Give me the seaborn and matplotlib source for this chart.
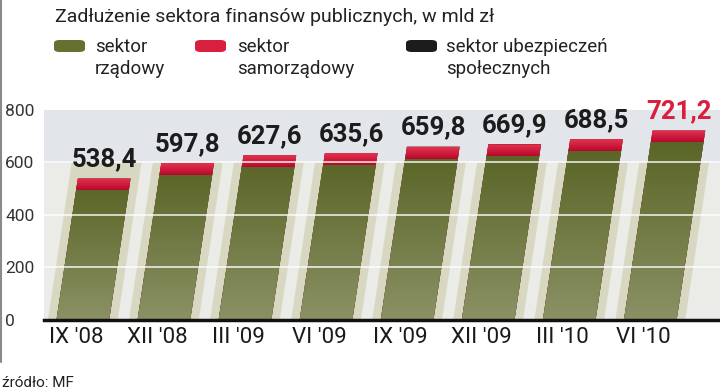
import numpy as np
import pandas as pd
import matplotlib
matplotlib.use('Agg')
import matplotlib.pyplot as plt
import matplotlib.transforms as mtransforms
from matplotlib.patches import FancyBboxPatch
from matplotlib.lines import Line2D
from matplotlib.colors import LinearSegmentedColormap
import seaborn as sns

# dane (mld zł)
okresy = ["IX '08", "XII '08", "III '09", "VI '09", "IX '09", "XII '09", "III '10", "VI '10"]
razem = [538.4, 597.8, 627.6, 635.6, 659.8, 669.9, 688.5, 721.2]
rzadowy = [512.5, 570.0, 600.5, 605.0, 626.5, 626.0, 647.5, 677.5]
samorzadowy = [25.4, 27.3, 26.6, 30.1, 32.8, 42.4, 40.5, 43.2]
ubezpieczen = [0.5, 0.5, 0.5, 0.5, 0.5, 1.5, 0.5, 0.5]
y_ticks = [0, 200, 400, 600, 800]

ZIELONY = '#67702f'
CZERWONY = '#d81f3e'
CZARNY = '#1c1c1c'

sns.set_theme(style='white')
plt.rcParams['font.family'] = ['Roboto', 'DejaVu Sans']

df = pd.DataFrame({'okres': okresy, 'rzadowy': rzadowy,
                   'samorzadowy': samorzadowy, 'ubezpieczen': ubezpieczen})
df['do_sam'] = df['rzadowy'] + df['samorzadowy']
df['do_ubez'] = df['do_sam'] + df['ubezpieczen']

fig = plt.figure(figsize=(7.2, 3.91), dpi=100)
ax = fig.add_axes([0.061, 0.182, 0.939, 0.537])

# pochylenie słupków
k = 0.00049
skew = mtransforms.Affine2D().skew(np.arctan(k), 0)

ax.set_facecolor('#ebebe8')
ax.axhspan(600, 800, color='#e2e5ea', zorder=0)

# beżowe pasy tła
sns.barplot(x=okresy, y=[600] * len(okresy), color='#d7d7c2', saturation=1,
            width=0.86, ax=ax, zorder=1)
sns.barplot(data=df, x='okres', y='do_ubez', color=CZARNY, saturation=1,
            width=0.65, ax=ax, zorder=2)
sns.barplot(data=df, x='okres', y='do_sam', color=CZERWONY, saturation=1,
            width=0.65, ax=ax, zorder=2)
sns.barplot(data=df, x='okres', y='rzadowy', color=ZIELONY, saturation=1,
            width=0.65, ax=ax, zorder=2)

for cont in ax.containers:
    for p in cont.patches:
        p.set_transform(skew + ax.transData)
        p.set_linewidth(0)

# gradienty
cm_green = LinearSegmentedColormap.from_list('g', ['#8b9165', '#5a6527'])
cm_red = LinearSegmentedColormap.from_list('r', ['#b8072c', '#e4344f'])
grad = np.linspace(0, 1, 256).reshape(-1, 1)
for cont, cmap in [(ax.containers[3], cm_green), (ax.containers[2], cm_red)]:
    for p in cont.patches:
        x0, w = p.get_x(), p.get_width()
        h = p.get_height()
        lo = 0 if cmap is cm_green else h - 45
        im = ax.imshow(grad, cmap=cmap, origin='lower', aspect='auto',
                       extent=[x0, x0 + w + k * h + 0.05, lo, h], zorder=3)
        im.set_clip_path(mtransforms.TransformedPatchPath(p))

for yv in y_ticks[1:4]:
    ax.axhline(yv, color='white', lw=1.2, alpha=0.85, zorder=4)

for i, v in enumerate(razem):
    kol = CZERWONY if i == len(razem) - 1 else CZARNY
    ax.text(i + k * v, v + 46, f"{v:.1f}".replace('.', ','), ha='center',
            va='baseline', fontsize=18.5, fontweight='bold', color=kol,
            clip_on=False, zorder=5)

ax.set_xlim(-0.48, 7.86)
ax.set_ylim(0, 800)
ax.set_xticks(np.arange(len(okresy)) - 0.08)
ax.set_xticklabels(okresy, fontsize=16, color='#1a1a1a')
ax.set_yticks(y_ticks)
ax.set_yticklabels([str(t) for t in y_ticks], fontsize=12.5, color='#333333',
                   ha='left')
ax.tick_params(axis='y', length=0, pad=28)
ax.tick_params(axis='x', length=0, pad=5)
ax.set_xlabel('')
ax.set_ylabel('')
for s in ['top', 'right', 'left']:
    ax.spines[s].set_visible(False)
ax.spines['bottom'].set_color('#111111')
ax.spines['bottom'].set_linewidth(2.5)
ax.spines['bottom'].set_zorder(6)

# tytuł i legenda
fig.text(55 / 720, 1 - 22 / 391, 'Zadłużenie sektora finansów publicznych, w mld zł',
         fontsize=14, color='#222222', va='baseline')
leg = [(54, 95, ZIELONY, 'sektor\nrządowy'),
       (195, 237, CZERWONY, 'sektor\nsamorządowy'),
       (406, 446, CZARNY, 'sektor ubezpieczeń\nspołecznych')]
for xs, xt, c, lab in leg:
    fig.patches.append(FancyBboxPatch((xs / 720, 1 - 52 / 391), 31 / 720, 12 / 391,
                                      boxstyle='round,pad=0,rounding_size=0.008',
                                      transform=fig.transFigure, color=c,
                                      lw=0, figure=fig))
    fig.text(xt / 720, 1 - 38 / 391, lab, fontsize=13.5, color='#222222',
             va='top', linespacing=1.25)

fig.text(2 / 720, 1 - 387 / 391, 'źródło: MF', fontsize=11, color='#222222',
         va='baseline')
fig.add_artist(Line2D([0.002, 0.002], [0.075, 1], transform=fig.transFigure,
                      color='#8a8a8a', lw=1.5))

fig.savefig('out.png', dpi=100)
